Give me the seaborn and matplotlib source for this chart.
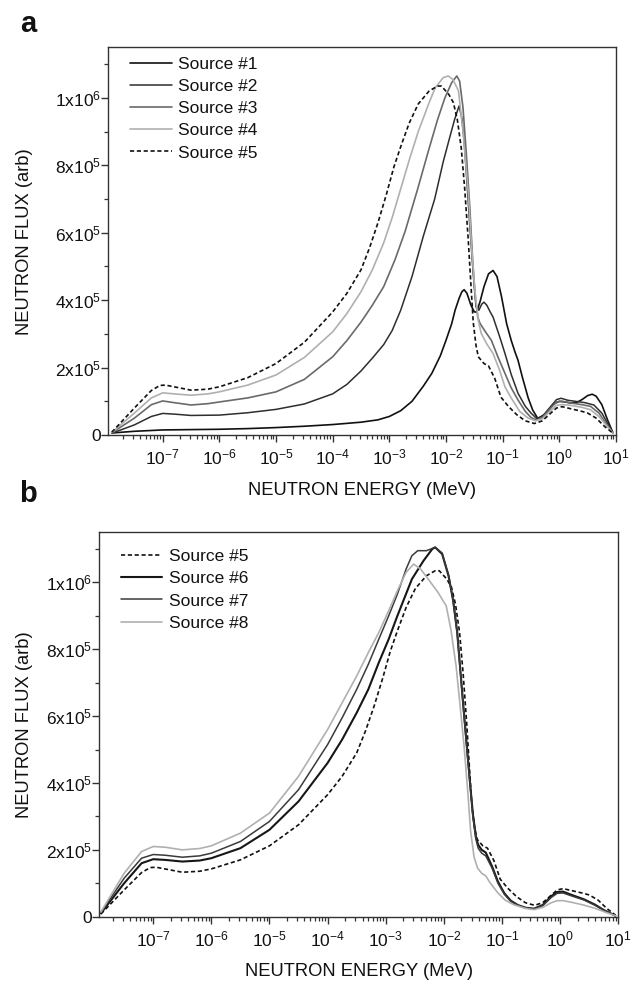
import numpy as np
import pandas as pd
import matplotlib
matplotlib.use("Agg")
import matplotlib.pyplot as plt
import seaborn as sns
from matplotlib.ticker import FixedLocator, FixedFormatter, LogLocator, NullFormatter

# ---------------- data (energy as log10(MeV), flux in units of 1e3) ----------------
S1_LOGE = [-7.9, -7.5, -7.0, -6.5, -6.0, -5.5, -5.0, -4.5, -4.0, -3.5, -3.2, -3.0, -2.8, -2.6,
           -2.4, -2.25, -2.1, -2.0, -1.9, -1.84, -1.77, -1.72, -1.68, -1.63, -1.56, -1.50, -1.46,
           -1.40, -1.33, -1.25, -1.17, -1.10, -1.02, -0.93, -0.85, -0.78, -0.73, -0.65, -0.55,
           -0.47, -0.38, -0.25, -0.1, 0.0, 0.1, 0.2, 0.3, 0.4, 0.5, 0.58, 0.65, 0.75, 0.85, 0.95]
S1_FLUX = [6, 11, 15, 16, 17, 19, 22, 26, 31, 38, 45, 55, 72, 100,
           145, 183, 235, 281, 330, 370, 405, 425, 431, 420, 385, 365, 365,
           395, 440, 478, 488, 470, 410, 330, 281, 245, 222, 170, 110,
           74, 49, 62, 92, 100, 98, 95, 96, 105, 117, 121, 115, 90, 45, 5]

S2_LOGE = [-7.9, -7.5, -7.2, -7.0, -6.8, -6.5, -6.0, -5.5, -5.0, -4.5, -4.0, -3.75, -3.5, -3.3,
           -3.1, -2.95, -2.8, -2.6, -2.4, -2.2, -2.05, -1.95, -1.85, -1.77, -1.72, -1.68, -1.64,
           -1.58, -1.52, -1.47, -1.42, -1.37, -1.33, -1.28, -1.22, -1.17, -1.05, -0.96, -0.85,
           -0.73, -0.6, -0.5, -0.4, -0.3, -0.15, -0.05, 0.03, 0.15, 0.32, 0.45, 0.61, 0.75,
           0.85, 0.95]
S2_FLUX = [5, 30, 55, 64, 62, 58, 59, 66, 76, 92, 122, 150, 190, 228,
           268, 310, 370, 470, 590, 700, 810, 873, 935, 976, 940, 870, 774,
           620, 479, 380, 370, 388, 394, 385, 365, 350, 290, 242, 180,
           124, 85, 65, 49, 55, 85, 105, 109, 103, 99, 96, 89, 65,
           35, 5]

S3_LOGE = [-7.9, -7.5, -7.2, -7.0, -6.8, -6.5, -6.2, -6.0, -5.5, -5.0, -4.5, -4.0, -3.75, -3.5,
           -3.3, -3.1, -2.9, -2.72, -2.5, -2.31, -2.15, -2.02, -1.9, -1.81, -1.76, -1.70, -1.64,
           -1.58, -1.53, -1.49, -1.44, -1.40, -1.30, -1.2, -1.08, -0.96, -0.85, -0.73, -0.6,
           -0.5, -0.4, -0.3, -0.15, -0.05, 0.05, 0.2, 0.4, 0.55, 0.7, 0.82, 0.95]
S3_FLUX = [6, 50, 90, 101, 96, 89, 93, 98, 110, 128, 165, 232, 280, 335,
           385, 440, 520, 605, 730, 843, 935, 1000, 1045, 1065, 1050, 971, 830,
           675, 520, 420, 350, 331, 305, 281, 230, 183, 140, 104, 70,
           52, 44, 52, 80, 98, 100, 95, 90, 85, 65, 35, 5]

S4_LOGE = [-7.9, -7.5, -7.2, -7.0, -6.8, -6.5, -6.2, -6.0, -5.5, -5.0, -4.5, -4.0, -3.75, -3.5,
           -3.3, -3.1, -2.95, -2.8, -2.65, -2.49, -2.3, -2.19, -2.05, -1.96, -1.88, -1.78, -1.70,
           -1.61, -1.55, -1.49, -1.43, -1.38, -1.28, -1.17, -1.05, -0.96, -0.85, -0.7, -0.55,
           -0.42, -0.3, -0.15, -0.05, 0.05, 0.2, 0.4, 0.55, 0.7, 0.82, 0.95]
S4_FLUX = [7, 65, 110, 125, 122, 118, 122, 128, 148, 178, 230, 306, 360, 425,
           490, 570, 645, 730, 815, 900, 985, 1030, 1060, 1065, 1055, 1021, 900,
           725, 560, 429, 340, 302, 270, 242, 190, 143, 110, 70, 50,
           42, 48, 72, 88, 90, 88, 82, 75, 55, 30, 5]

S5_LOGE = [-7.9, -7.5, -7.2, -7.05, -6.95, -6.8, -6.5, -6.2, -6.0, -5.5, -5.0, -4.5, -4.0, -3.75,
           -3.5, -3.35, -3.2, -3.05, -2.92, -2.8, -2.65, -2.49, -2.3, -2.15, -2.08, -1.95, -1.87,
           -1.80, -1.73, -1.67, -1.61, -1.56, -1.52, -1.47, -1.43, -1.33, -1.25, -1.14, -1.03,
           -0.9, -0.75, -0.6, -0.44, -0.3, -0.15, -0.05, 0.05, 0.2, 0.4, 0.5, 0.65, 0.8, 0.95]
S5_FLUX = [8, 80, 132, 147, 148, 143, 133, 136, 143, 170, 212, 275, 365, 420,
           490, 555, 630, 715, 795, 855, 925, 982, 1020, 1035, 1035, 1010, 986,
           935, 850, 730, 585, 445, 335, 265, 232, 212, 205, 168, 112,
           85, 60, 42, 34, 42, 65, 80, 84, 78, 70, 65, 50, 25, 5]

S6_LOGE = [-7.9, -7.5, -7.2, -7.0, -6.8, -6.5, -6.2, -6.0, -5.5, -5.0, -4.5, -4.0, -3.75, -3.5,
           -3.3, -3.12, -2.95, -2.8, -2.55, -2.35, -2.2, -2.15, -2.03, -1.92, -1.84, -1.77, -1.73,
           -1.67, -1.61, -1.55, -1.50, -1.45, -1.41, -1.35, -1.28, -1.17, -1.07, -0.96, -0.85,
           -0.73, -0.6, -0.45, -0.3, -0.15, -0.05, 0.05, 0.2, 0.41, 0.6, 0.75, 0.95]
S6_FLUX = [10, 100, 160, 172, 170, 165, 168, 175, 205, 260, 345, 460, 530, 610,
           680, 760, 830, 900, 1010, 1065, 1100, 1105, 1085, 1020, 945, 850, 765,
           640, 520, 400, 305, 240, 215, 200, 192, 150, 105, 70, 48,
           35, 27, 24, 35, 62, 74, 75, 65, 52, 36, 20, 3]

S7_LOGE = [-7.9, -7.5, -7.2, -7.0, -6.8, -6.5, -6.2, -6.0, -5.5, -5.0, -4.5, -4.0, -3.75, -3.5,
           -3.3, -3.12, -2.95, -2.8, -2.65, -2.55, -2.45, -2.3, -2.15, -2.03, -1.92, -1.84, -1.77,
           -1.73, -1.67, -1.61, -1.55, -1.50, -1.45, -1.41, -1.35, -1.28, -1.17, -1.07, -0.96,
           -0.85, -0.73, -0.6, -0.45, -0.3, -0.15, -0.05, 0.05, 0.2, 0.41, 0.6, 0.75, 0.95]
S7_FLUX = [12, 115, 175, 186, 184, 178, 182, 190, 225, 285, 380, 515, 595, 680,
           755, 830, 900, 965, 1040, 1080, 1095, 1095, 1105, 1088, 1022, 945, 845,
           760, 635, 512, 395, 298, 232, 205, 190, 182, 145, 100, 67,
           46, 34, 26, 23, 33, 58, 70, 71, 62, 50, 34, 19, 3]

S8_LOGE = [-7.9, -7.5, -7.2, -7.0, -6.8, -6.5, -6.2, -6.0, -5.5, -5.0, -4.5, -4.0, -3.75, -3.5,
           -3.3, -3.12, -2.95, -2.8, -2.65, -2.52, -2.4, -2.27, -2.1, -1.96, -1.88, -1.79, -1.72,
           -1.65, -1.59, -1.54, -1.48, -1.42, -1.35, -1.28, -1.2, -1.07, -0.95, -0.8, -0.6,
           -0.45, -0.3, -0.15, -0.05, 0.05, 0.2, 0.4, 0.6, 0.8, 0.95]
S8_FLUX = [14, 130, 195, 210, 208, 200, 204, 212, 250, 310, 420, 560, 640, 720,
           790, 850, 915, 975, 1030, 1055, 1040, 1010, 970, 930, 860, 750, 630,
           505, 375, 255, 178, 145, 130, 122, 100, 71, 50, 36, 25,
           21, 28, 42, 48, 48, 43, 35, 25, 12, 3]

PANEL_A = ["Source #1", "Source #2", "Source #3", "Source #4", "Source #5"]
PANEL_B = ["Source #5", "Source #6", "Source #7", "Source #8"]
SERIES = {
    "Source #1": (S1_LOGE, S1_FLUX), "Source #2": (S2_LOGE, S2_FLUX),
    "Source #3": (S3_LOGE, S3_FLUX), "Source #4": (S4_LOGE, S4_FLUX),
    "Source #5": (S5_LOGE, S5_FLUX), "Source #6": (S6_LOGE, S6_FLUX),
    "Source #7": (S7_LOGE, S7_FLUX), "Source #8": (S8_LOGE, S8_FLUX),
}
Y_TICKS = [0, 2e5, 4e5, 6e5, 8e5, 1e6]
Y_TICK_LABELS = ["0", r"2x10$^{5}$", r"4x10$^{5}$", r"6x10$^{5}$", r"8x10$^{5}$", r"1x10$^{6}$"]
X_EXPONENTS = [-7, -6, -5, -4, -3, -2, -1, 0, 1]
X_LABEL = "NEUTRON ENERGY (MeV)"
Y_LABEL = "NEUTRON FLUX (arb)"

# ---------------- styles ----------------
STYLE = {
    "Source #1": dict(color="#111111", lw=1.2, ls="-"),
    "Source #2": dict(color="#2e2e2e", lw=1.1, ls="-"),
    "Source #3": dict(color="#6a6a6a", lw=1.2, ls="-"),
    "Source #4": dict(color="#b0b0b0", lw=1.2, ls="-"),
    "Source #5": dict(color="#111111", lw=1.2, ls=(0, (2.5, 1.6))),
    "Source #6": dict(color="#161616", lw=1.5, ls="-"),
    "Source #7": dict(color="#3a3a3a", lw=1.1, ls="-"),
    "Source #8": dict(color="#b0b0b0", lw=1.2, ls="-"),
}

sns.set_theme(style="ticks")
plt.rcParams["font.family"] = ["Liberation Sans", "DejaVu Sans"]
plt.rcParams["mathtext.fontset"] = "custom"
plt.rcParams["mathtext.rm"] = "Liberation Sans"
plt.rcParams["mathtext.it"] = "Liberation Sans:italic"
plt.rcParams["mathtext.bf"] = "Liberation Sans:bold"
plt.rcParams["axes.unicode_minus"] = False

FS = 12.5
fig = plt.figure(figsize=(6.33, 9.9), dpi=100)
axA = fig.add_axes([108.3 / 633, 1 - 435 / 990, (616 - 108.3) / 633, (435 - 47.3) / 990])
axB = fig.add_axes([99.3 / 633, 1 - 916.7 / 990, (618.3 - 99.3) / 633, (916.7 - 532.3) / 990])


def draw(ax, names, xlim, leg_anchor, ylab_x, xlab_y):
    for name in names:
        le, fl = SERIES[name]
        df = pd.DataFrame({"E": np.power(10.0, np.array(le)), "F": np.array(fl) * 1e3})
        st = STYLE[name]
        sns.lineplot(data=df, x="E", y="F", ax=ax, color=st["color"], linewidth=st["lw"],
                     linestyle=st["ls"], label=name, sort=False, estimator=None)
    ax.set_xscale("log")
    ax.set_xlim(*xlim)
    ax.set_ylim(0, 1.15e6)
    ax.xaxis.set_major_locator(FixedLocator([10.0 ** e for e in X_EXPONENTS]))
    ax.xaxis.set_major_formatter(FixedFormatter([r"10$^{%d}$" % e for e in X_EXPONENTS]))
    ax.xaxis.set_minor_locator(LogLocator(base=10, subs=np.arange(2, 10), numticks=40))
    ax.xaxis.set_minor_formatter(NullFormatter())
    ax.yaxis.set_major_locator(FixedLocator(Y_TICKS))
    ax.yaxis.set_major_formatter(FixedFormatter(Y_TICK_LABELS))
    ax.yaxis.set_minor_locator(FixedLocator([1e5, 3e5, 5e5, 7e5, 9e5, 1.1e6]))
    ax.tick_params(axis="both", which="major", direction="out", length=5, width=1.0,
                   color="#333333", labelsize=FS, labelcolor="#111111")
    ax.tick_params(axis="both", which="minor", direction="out", length=3, width=0.9,
                   color="#333333")
    ax.tick_params(axis="x", which="major", pad=4)
    ax.tick_params(axis="y", which="major", pad=0.5)
    for sp in ax.spines.values():
        sp.set_visible(True)
        sp.set_color("#333333")
        sp.set_linewidth(1.0)
    ax.set_xlabel(X_LABEL, fontsize=13.2, color="#111111")
    ax.set_ylabel(Y_LABEL, fontsize=13.2, color="#111111")
    ax.xaxis.set_label_coords(0.5, xlab_y)
    ax.yaxis.set_label_coords(ylab_x, 0.5)
    ax.grid(False)
    leg = ax.legend(loc="upper left", bbox_to_anchor=leg_anchor, frameon=False, fontsize=FS,
                    handlelength=2.4, handletextpad=0.38, labelspacing=0.4,
                    borderaxespad=0, borderpad=0)
    for t in leg.get_texts():
        t.set_color("#111111")


draw(axA, PANEL_A, (10 ** -7.96, 10.0), (0.043, 0.975), -0.148, -0.122)
draw(axB, PANEL_B, (10 ** -7.927, 10.0), (0.041, 0.956), -0.1277, -0.12)

fig.text(20 / 633, 1 - 24 / 990, "a", fontsize=21, fontweight="bold", ha="left", va="center",
         color="#111111")
fig.text(19 / 633, 1 - 494 / 990, "b", fontsize=21, fontweight="bold", ha="left", va="center",
         color="#111111")

fig.savefig("out.png", dpi=100)
